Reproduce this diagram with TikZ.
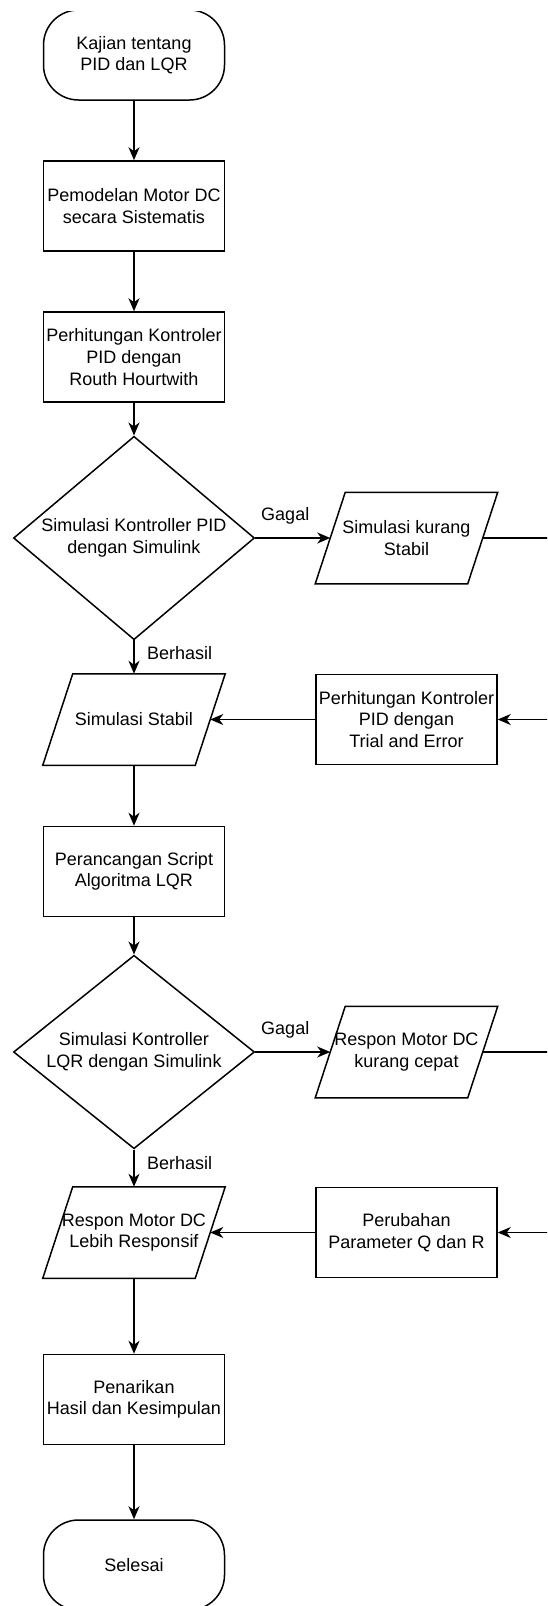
\documentclass[tikz,border=0pt]{standalone}
\usepackage{tikz}
\usepackage{fontspec}
\setmainfont{Liberation Sans}
\usetikzlibrary{arrows.meta,shapes.geometric,positioning}

\begin{document}
\begin{tikzpicture}[x=1pt,y=-1pt,node distance=151pt,line width=1.5pt,
    >={Stealth[length=13pt,width=11pt,inset=4pt]},
    font=\fontsize{18}{21.6}\selectfont]
  \tikzstyle{every node}=[align=center]
  \tikzstyle{term}=[draw,rectangle,rounded corners=35pt,minimum width=181pt,minimum height=90pt]
  \tikzstyle{proc}=[draw,rectangle,minimum width=181pt,minimum height=90pt,inner sep=1pt]
  \tikzstyle{io}=[rectangle,minimum width=151pt,minimum height=90pt,inner sep=0pt,
    append after command={\pgfextra{\draw ([xshift=15pt]\tikzlastnode.north west)
      -- ([xshift=15pt]\tikzlastnode.north east) -- ([xshift=-15pt]\tikzlastnode.south east)
      -- ([xshift=-15pt]\tikzlastnode.south west) -- cycle;}}]
  \tikzstyle{decision}=[draw,diamond,minimum width=241pt,minimum height=150pt,inner sep=-5pt]
  \useasboundingbox (0,0) rectangle (547,1606);
  \clip (0,11) rectangle (547,1606);
  % main column
  \node[term] (start) at (134,55) {Kajian tentang\\PID dan LQR};
  \node[proc] (model) [below of=start] {Pemodelan Motor DC\\secara Sistematis};
  \node[proc] (routh) [below of=model] {Perhitungan Kontroler\\PID dengan\\Routh Hourtwith};
  \node[decision] (simpid) [below of=routh, node distance=181pt] {Simulasi Kontroller PID\\dengan Simulink};
  \node[io] (stabil) [below of=simpid, node distance=181.5pt] {Simulasi Stabil};
  \node[proc] (script) [below of=stabil, node distance=152pt] {Perancangan Script\\Algoritma LQR};
  \node[decision] (simlqr) [below of=script, node distance=180.5pt] {Simulasi Kontroller\\LQR dengan Simulink};
  \node[io] (responsif) [below of=simlqr, node distance=180.5pt] {Respon Motor DC\\Lebih Responsif};
  \node[proc] (hasil) [below of=responsif, node distance=167pt] {Penarikan\\Hasil dan Kesimpulan};
  \node[term] (selesai) [below of=hasil, node distance=165.5pt] {Selesai};
  % right column
  \node[io] (kurang) [right of=simpid, node distance=272.5pt] {Simulasi kurang\\Stabil};
  \node[proc] (trial) [right of=stabil, node distance=272.5pt] {Perhitungan Kontroler\\PID dengan\\Trial and Error};
  \node[io] (lambat) [right of=simlqr, node distance=272.5pt] {Respon Motor DC\\kurang cepat};
  \node[proc] (qr) [right of=responsif, node distance=272.5pt] {Perubahan\\Parameter Q dan R};
  \coordinate (far) at (570,0);
  \path[->]
  (start) edge (model)
  (model) edge (routh)
  (routh) edge (simpid)
  (simpid) edge node[above=10pt,pos=0.4] {Gagal} (kurang)
  (simpid) edge node[right=9pt,pos=0.37] {Berhasil} (stabil)
  (trial) edge (stabil)
  (stabil) edge (script)
  (script) edge (simlqr)
  (simlqr) edge node[above=10pt,pos=0.4] {Gagal} (lambat)
  (simlqr) edge node[right=9pt,pos=0.37] {Berhasil} (responsif)
  (qr) edge (responsif)
  (responsif) edge (hasil)
  (hasil) edge (selesai)
  ;
  \draw[->] (kurang) -- (kurang -| far) |- (trial);
  \draw[->] (lambat) -- (lambat -| far) |- (qr);
\end{tikzpicture}
\end{document}
